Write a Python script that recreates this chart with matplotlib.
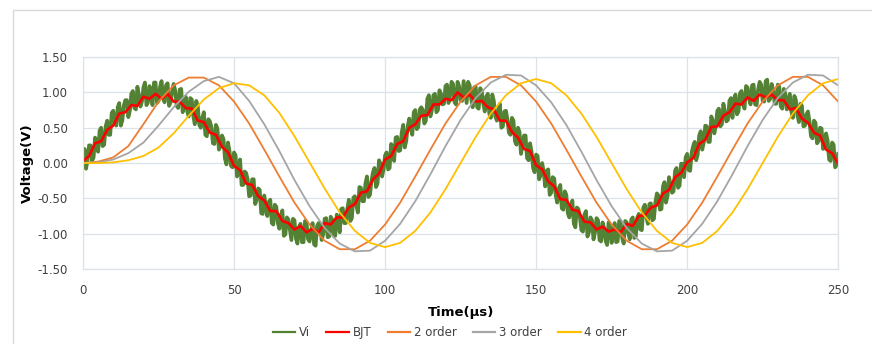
import numpy as np
import matplotlib
matplotlib.use("Agg")
import matplotlib.pyplot as plt
from matplotlib.patches import Rectangle

plt.rcParams['font.family'] = ['DejaVu Sans']

# Vi, noisy input: samples at whole microseconds ...
t_vi = np.arange(0, 251, 1)
vi = [
    0.10, -0.08, 0.25, 0.03, 0.36, 0.16, 0.50, 0.26, 0.60, 0.40,
    0.74, 0.53, 0.85, 0.60, 0.89, 0.65, 0.98, 0.78, 1.08, 0.80,
    1.07, 0.82, 1.09, 0.82, 1.14, 0.88, 1.16, 0.86, 1.13, 0.86,
    1.12, 0.81, 1.04, 0.72, 0.94, 0.66, 0.90, 0.55, 0.80, 0.50,
    0.72, 0.38, 0.59, 0.28, 0.54, 0.19, 0.39, 0.06, 0.29, -0.04,
    0.15, -0.19, 0.05, -0.31, -0.14, -0.47, -0.23, -0.58, -0.36, -0.71,
    -0.46, -0.75, -0.52, -0.87, -0.62, -0.93, -0.67, -1.01, -0.80, -1.09,
    -0.81, -1.14, -0.86, -1.12, -0.84, -1.11, -0.85, -1.17, -0.85, -1.09,
    -0.79, -1.05, -0.76, -1.03, -0.73, -0.98, -0.64, -0.85, -0.52, -0.78,
    -0.47, -0.70, -0.35, -0.54, -0.19, -0.45, -0.13, -0.34, 0.04, -0.19,
    0.11, -0.09, 0.27, 0.03, 0.37, 0.18, 0.54, 0.31, 0.63, 0.40,
    0.75, 0.51, 0.79, 0.56, 0.91, 0.66, 0.96, 0.72, 1.03, 0.83,
    1.09, 0.85, 1.15, 0.86, 1.15, 0.89, 1.16, 0.85, 1.10, 0.79,
    1.08, 0.77, 1.02, 0.73, 0.98, 0.64, 0.88, 0.60, 0.84, 0.52,
    0.74, 0.43, 0.64, 0.31, 0.50, 0.13, 0.39, 0.07, 0.28, -0.07,
    0.12, -0.23, 0.00, -0.33, -0.09, -0.42, -0.22, -0.56, -0.31, -0.66,
    -0.45, -0.77, -0.53, -0.91, -0.65, -0.95, -0.73, -1.04, -0.77, -1.08,
    -0.78, -1.09, -0.84, -1.10, -0.84, -1.13, -0.85, -1.11, -0.84, -1.14,
    -0.84, -1.08, -0.77, -1.04, -0.72, -0.95, -0.59, -0.86, -0.57, -0.79,
    -0.43, -0.66, -0.33, -0.56, -0.20, -0.42, -0.11, -0.35, -0.01, -0.20,
    0.13, -0.11, 0.24, 0.04, 0.39, 0.19, 0.53, 0.30, 0.66, 0.42,
    0.74, 0.52, 0.84, 0.59, 0.88, 0.64, 0.97, 0.73, 1.02, 0.77,
    1.07, 0.83, 1.11, 0.82, 1.15, 0.88, 1.16, 0.88, 1.12, 0.84,
    1.11, 0.80, 1.05, 0.76, 0.98, 0.64, 0.89, 0.58, 0.81, 0.53,
    0.73, 0.38, 0.60, 0.28, 0.50, 0.20, 0.42, 0.05, 0.29, -0.06,
    0.13,
]
# ... and at the half microseconds in between
t_vi_half = np.arange(0.5, 250, 1)
vi_half = [
    0.20, 0.04, 0.25, 0.08, 0.30, 0.46, 0.24, 0.52, 0.40, 0.71,
    0.58, 0.79, 0.53, 0.81, 0.89, 0.74, 1.02, 0.76, 0.96, 0.87,
    1.14, 0.86, 1.00, 1.14, 0.85, 1.08, 0.94, 1.10, 0.81, 1.01,
    1.03, 0.78, 1.05, 0.84, 0.73, 0.92, 0.67, 0.88, 0.54, 0.64,
    0.40, 0.62, 0.51, 0.27, 0.49, 0.24, 0.34, -0.02, 0.17, -0.06,
    0.11, -0.10, -0.31, -0.12, -0.23, -0.46, -0.23, -0.52, -0.38, -0.72,
    -0.59, -0.55, -0.85, -0.59, -0.85, -0.74, -1.03, -0.77, -0.95, -0.79,
    -1.07, -0.91, -1.12, -0.82, -1.08, -0.96, -1.15, -0.89, -0.85, -1.01,
    -0.78, -1.04, -0.80, -1.03, -0.82, -0.65, -0.85, -0.65, -0.82, -0.49,
    -0.60, -0.34, -0.54, -0.29, -0.48, -0.25, -0.07, -0.29, -0.01, -0.09,
    0.15, -0.07, 0.21, 0.36, 0.17, 0.43, 0.22, 0.52, 0.49, 0.72,
    0.48, 0.76, 0.75, 0.60, 0.96, 0.75, 0.98, 0.75, 0.98, 0.84,
    1.11, 0.95, 1.12, 0.83, 1.09, 0.88, 1.01, 1.15, 0.91, 1.07,
    0.79, 1.06, 0.84, 0.94, 0.70, 0.97, 0.66, 0.74, 0.50, 0.73,
    0.62, 0.40, 0.60, 0.26, 0.44, 0.26, 0.39, 0.04, 0.16, -0.13,
    0.10, -0.17, -0.12, -0.11, -0.45, -0.20, -0.46, -0.36, -0.64, -0.40,
    -0.71, -0.61, -0.86, -0.63, -0.77, -0.97, -0.68, -0.98, -0.81, -0.98,
    -0.81, -1.11, -0.92, -1.16, -0.90, -0.97, -1.12, -0.82, -1.06, -0.82,
    -0.99, -0.80, -1.06, -0.77, -0.94, -0.63, -0.76, -0.58, -0.81, -0.55,
    -0.46, -0.65, -0.27, -0.47, -0.30, -0.40, -0.07, -0.32, -0.01, 0.08,
    -0.10, 0.15, 0.30, 0.12, 0.45, 0.29, 0.52, 0.30, 0.60, 0.53,
    0.77, 0.55, 0.73, 0.61, 0.92, 0.90, 0.69, 0.99, 0.83, 1.09,
    0.90, 1.10, 0.83, 1.04, 1.11, 0.87, 1.18, 0.91, 1.03, 0.84,
    1.08, 0.77, 0.98, 0.87, 0.73, 0.95, 0.68, 0.84, 0.52, 0.69,
    0.59, 0.35, 0.57, 0.31, 0.49, 0.24, 0.32, 0.03, 0.26, -0.03,
]

# BJT output, every 2 us
t_bjt = np.arange(0, 251, 2)
bjt = [
    0.03, 0.10, 0.28, 0.31, 0.47, 0.53, 0.70, 0.72, 0.82, 0.81,
    0.94, 0.91, 0.98, 0.91, 0.98, 0.87, 0.87, 0.78, 0.77, 0.60,
    0.58, 0.43, 0.40, 0.23, 0.15, -0.04, -0.10, -0.29, -0.31, -0.47,
    -0.53, -0.68, -0.68, -0.82, -0.85, -0.94, -0.89, -0.98, -0.93, -0.98,
    -0.85, -0.87, -0.77, -0.77, -0.63, -0.58, -0.42, -0.40, -0.23, -0.15,
    0.05, 0.10, 0.27, 0.31, 0.50, 0.55, 0.67, 0.68, 0.83, 0.83,
    0.91, 0.89, 1.00, 0.93, 0.97, 0.87, 0.88, 0.79, 0.76, 0.60,
    0.60, 0.44, 0.36, 0.20, 0.17, -0.03, -0.09, -0.26, -0.33, -0.51,
    -0.52, -0.66, -0.68, -0.83, -0.84, -0.94, -0.90, -0.97, -0.94, -0.98,
    -0.86, -0.89, -0.75, -0.74, -0.63, -0.60, -0.43, -0.38, -0.20, -0.14,
    0.01, 0.07, 0.27, 0.33, 0.51, 0.52, 0.67, 0.72, 0.84, 0.83,
    0.93, 0.88, 0.97, 0.93, 0.97, 0.89, 0.89, 0.76, 0.78, 0.63,
    0.57, 0.43, 0.39, 0.19, 0.14, -0.01,
]

# filter outputs, every 5 us
t_f = np.arange(0, 251, 5)
order2 = [
    0.00, 0.02, 0.08, 0.24, 0.55, 0.87, 1.10, 1.21, 1.21, 1.10,
    0.87, 0.56, 0.19, -0.19, -0.56, -0.87, -1.10, -1.22, -1.22, -1.10,
    -0.87, -0.56, -0.19, 0.19, 0.56, 0.87, 1.10, 1.22, 1.22, 1.10,
    0.87, 0.56, 0.19, -0.19, -0.56, -0.87, -1.10, -1.22, -1.22, -1.10,
    -0.87, -0.56, -0.19, 0.19, 0.56, 0.87, 1.10, 1.22, 1.22, 1.10,
    0.87,
]
order3 = [
    0.00, 0.01, 0.05, 0.14, 0.29, 0.53, 0.79, 1.01, 1.16, 1.22,
    1.13, 0.88, 0.55, 0.17, -0.24, -0.61, -0.92, -1.14, -1.25, -1.24,
    -1.10, -0.86, -0.54, -0.16, 0.24, 0.61, 0.92, 1.14, 1.25, 1.24,
    1.10, 0.86, 0.54, 0.16, -0.24, -0.61, -0.92, -1.14, -1.25, -1.24,
    -1.10, -0.86, -0.54, -0.16, 0.24, 0.61, 0.92, 1.14, 1.25, 1.24,
    1.10,
]
order4 = [
    0.00, 0.00, 0.01, 0.04, 0.10, 0.22, 0.42, 0.67, 0.90, 1.06,
    1.13, 1.10, 0.96, 0.71, 0.38, 0.01, -0.36, -0.70, -0.96, -1.13,
    -1.19, -1.13, -0.96, -0.70, -0.37, 0.00, 0.37, 0.70, 0.96, 1.13,
    1.19, 1.13, 0.96, 0.70, 0.37, 0.00, -0.37, -0.70, -0.96, -1.13,
    -1.19, -1.13, -0.96, -0.70, -0.37, 0.00, 0.37, 0.70, 0.96, 1.13,
    1.19,
]

# merge the two Vi sample sets into one time-ordered trace
t_all = np.concatenate([t_vi, t_vi_half])
v_all = np.concatenate([vi, vi_half])
order = np.argsort(t_all)

fig = plt.figure(figsize=(8.72, 3.44), dpi=100)
ax = fig.add_axes([0.0952, 0.218, 0.866, 0.616])

ax.plot(t_all[order], v_all[order], color='#548235', lw=2.7, label='Vi')
ax.plot(t_bjt, bjt, color='#ff0000', lw=1.9, label='BJT')
ax.plot(t_f, order2, color='#ed7d31', lw=1.3, label='2 order')
ax.plot(t_f, order3, color='#a5a5a5', lw=1.3, label='3 order')
ax.plot(t_f, order4, color='#ffc000', lw=1.3, label='4 order')

ax.set_xlim(0, 250)
ax.set_ylim(-1.5, 1.5)
ax.set_xticks(np.arange(0, 251, 50))
ax.set_yticks(np.arange(-1.5, 1.51, 0.5))
ax.yaxis.set_major_formatter(matplotlib.ticker.FormatStrFormatter('%.2f'))
ax.grid(True, color='#dde1e8', lw=0.9)
ax.set_axisbelow(True)
for s in ax.spines.values():
    s.set_color('#dde1e8')
    s.set_linewidth(0.9)
ax.tick_params(length=0, labelsize=8.5, colors='#404040')
ax.tick_params(axis='y', pad=11)
ax.tick_params(axis='x', pad=11)

ax.set_xlabel('Time(µs)', fontsize=9.5, fontweight='bold')
ax.set_ylabel('Voltage(V)', fontsize=9.5, fontweight='bold')
ax.xaxis.set_label_coords(0.5, -0.175)
ax.yaxis.set_label_coords(-0.065, 0.5)

leg = fig.legend(loc='center', bbox_to_anchor=(0.516, 0.032), ncol=5, frameon=False,
                 fontsize=8.5, handlelength=1.9, handletextpad=0.3, columnspacing=1.4,
                 labelcolor='#404040')
for h in leg.get_lines():
    h.set_linewidth(1.6)

fig.patches.append(Rectangle((13 / 872, -0.1), 1.2, 1.1 - 10 / 344,
                             transform=fig.transFigure, fill=False,
                             edgecolor='#d9d9d9', lw=1))

fig.savefig('out.png', dpi=100)
